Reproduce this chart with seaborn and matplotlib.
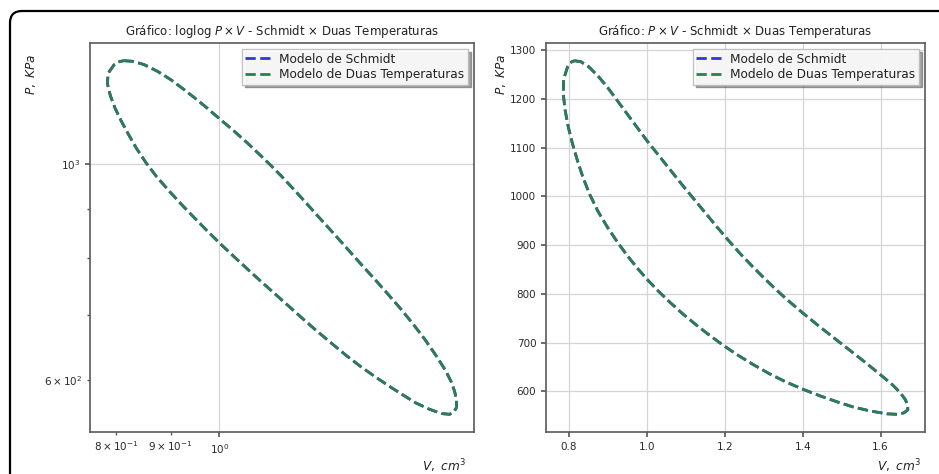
import numpy as np
import pandas as pd
import matplotlib
matplotlib.use("Agg")
import matplotlib.pyplot as plt
import seaborn as sns
from matplotlib.patches import FancyBboxPatch
from matplotlib.transforms import IdentityTransform
from matplotlib.ticker import FuncFormatter

# Closed P-V loop (V in cm^3, P in KPa)
volume = [0.813, 0.830, 0.850, 0.875, 0.900, 0.925, 0.950, 0.975, 1.000, 1.030,
          1.060, 1.090, 1.120, 1.150, 1.180, 1.210, 1.240, 1.270, 1.300, 1.330,
          1.360, 1.400, 1.440, 1.480, 1.520, 1.560, 1.600, 1.630, 1.650, 1.663,
          1.670, 1.670, 1.660, 1.645, 1.616, 1.573, 1.530, 1.487, 1.444, 1.402,
          1.358, 1.315, 1.273, 1.230, 1.195, 1.161, 1.127, 1.092, 1.060, 1.030,
          1.000, 0.975, 0.950, 0.925, 0.899, 0.873, 0.853, 0.836, 0.822, 0.809,
          0.798, 0.790, 0.785, 0.786, 0.796, 0.803]
pressure = [1278, 1276, 1266, 1246, 1222, 1195, 1168, 1141, 1114, 1084,
            1054, 1024, 995, 966, 937, 909, 882, 857, 833, 810,
            788, 761, 735, 710, 685, 660, 634, 614, 598, 584,
            572, 562, 556, 553, 554, 560, 568, 579, 591, 604,
            619, 636, 655, 676, 695, 715, 736, 759, 782, 805,
            830, 853, 878, 905, 936, 971, 1004, 1038, 1072, 1107,
            1142, 1176, 1210, 1240, 1265, 1274]

series_names = ["Modelo de Schmidt", "Modelo de Duas Temperaturas"]
series_colors = ["#3535d8", "#2e7d50"]

titles = [r"Gráfico: loglog $P \times V$ - Schmidt $\times$ Duas Temperaturas",
          r"Gráfico: $P \times V$ - Schmidt $\times$ Duas Temperaturas"]
xlabel = r"$V,\ cm^3$"
ylabel = r"$P,\ KPa$"
# minor tick labels shown on the log-scale pressure axis
log_minor_labels = {600: r"$\mathdefault{6\times10^{2}}$"}

sns.set_theme(style="whitegrid", rc={
    "axes.edgecolor": "#5a5a5a",
    "axes.linewidth": 1.2,
    "grid.color": "#d5d5d5",
    "grid.linewidth": 0.9,
    "xtick.bottom": True,
    "ytick.left": True,
    "xtick.color": "#5a5a5a",
    "ytick.color": "#5a5a5a",
    "xtick.labelcolor": "#2a2a2a",
    "ytick.labelcolor": "#2a2a2a",
    "xtick.major.size": 3.5,
    "ytick.major.size": 3.5,
    "xtick.minor.size": 2,
    "ytick.minor.size": 2,
    "text.color": "#222222",
    "axes.labelcolor": "#222222",
})
plt.rcParams["font.family"] = ["DejaVu Sans"]
plt.rcParams["mathtext.fontset"] = "dejavusans"

V = np.append(volume, volume[0])
P = np.append(pressure, pressure[0])
frames = []
for name in series_names:
    frames.append(pd.DataFrame({"V": V, "P": P, "Modelo": name}))
df = pd.concat(frames, ignore_index=True)

fig = plt.figure(figsize=(9.39, 4.74), dpi=100)
ax1 = fig.add_axes([90 / 939, 42 / 474, 384 / 939, 389 / 474])
ax2 = fig.add_axes([546 / 939, 42 / 474, 379 / 939, 389 / 474])

for ax in (ax1, ax2):
    for name, col in zip(series_names, series_colors):
        sub = df[df["Modelo"] == name]
        sns.lineplot(data=sub, x="V", y="P", sort=False, estimator=None,
                     color=col, linestyle="--", linewidth=2.0, label=name, ax=ax)

ax1.set_xscale("log")
ax1.set_yscale("log")
ax1.grid(True, which="major")
ax1.grid(False, which="minor")


def _minor_fmt(val, pos):
    for k, s in log_minor_labels.items():
        if abs(val - k) < 1e-6 * k:
            return s
    return ""


ax1.yaxis.set_minor_formatter(FuncFormatter(_minor_fmt))

for ax, t, lx, ly, xr in ((ax1, titles[0], -0.135, 0.92, 0.98),
                          (ax2, titles[1], -0.10, 0.92, 0.99)):
    ax.set_title(t, fontsize=8.5, pad=6)
    ax.set_xlabel(xlabel, fontsize=8.7, ha="right")
    ax.xaxis.set_label_coords(xr, -0.065)
    ax.set_ylabel(ylabel, fontsize=8.7)
    ax.yaxis.set_label_coords(lx, ly)
    ax.tick_params(axis="both", which="both", labelsize=7.5)
    for s in ax.spines.values():
        s.set_visible(True)
    leg = ax.legend(loc="upper right", fontsize=8.7, shadow=True, frameon=True,
                    fancybox=False, framealpha=0.9, borderpad=0.3, labelspacing=0.2)
    leg.get_frame().set_edgecolor("#bbbbbb")

border = FancyBboxPatch((10, -30), 980, 493, boxstyle="round,pad=0,rounding_size=12",
                        transform=IdentityTransform(), fill=False, edgecolor="black",
                        linewidth=1.6, clip_on=False)
fig.patches.append(border)

fig.savefig("out.png", dpi=100)
